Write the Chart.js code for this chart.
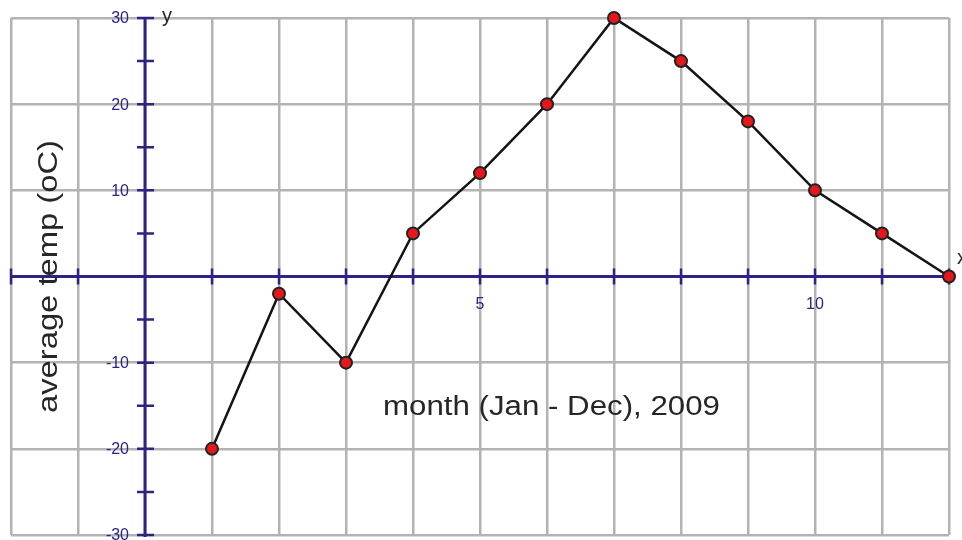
<!DOCTYPE html>
<html>
<head>
<meta charset="utf-8">
<title>Average temperature 2009</title>
<script src="https://cdn.jsdelivr.net/npm/chart.js@4"></script>
<style>
  html, body { margin: 0; padding: 0; background: #fff; }
  #wrap { width: 962px; height: 540px; position: relative; }
</style>
</head>
<body>
<div id="wrap"><canvas id="tempChart" width="962" height="540"></canvas></div>
<script>
// monthly average temperature, 2009
const months = [1, 2, 3, 4, 5, 6, 7, 8, 9, 10, 11, 12];
const temps = [-20, -2, -10, 5, 12, 20, 30, 25, 18, 10, 5, 0];

const xTickLabels = [5, 10];
const yTickLabels = [30, 20, 10, -10, -20, -30];
const yTickMarks = [30, 25, 20, 15, 10, 5, -5, -10, -15, -20, -25, -30];

const axisColor = "#2b2485";
const textColor = "#262626";

// draws the x/y axes through the origin, like graph paper
const originAxes = {
    id: "originAxes",
    beforeDatasetsDraw(chart) {
        const ctx = chart.ctx;
        const xs = chart.scales.x, ys = chart.scales.y;
        const ox = xs.getPixelForValue(0);
        const oy = ys.getPixelForValue(0);
        const a = chart.chartArea;

        ctx.save();
        ctx.strokeStyle = axisColor;
        ctx.lineWidth = 3;

        ctx.beginPath();
        ctx.moveTo(a.left - 1, oy);
        ctx.lineTo(a.right + 6, oy);
        ctx.moveTo(ox, ys.getPixelForValue(30));
        ctx.lineTo(ox, ys.getPixelForValue(-30) + 2);
        ctx.stroke();

        ctx.lineWidth = 2.5;
        ctx.beginPath();
        for (let v = -2; v <= 12; v++) {
            if (v === 0) continue;
            let px = xs.getPixelForValue(v);
            ctx.moveTo(px, oy - 8);
            ctx.lineTo(px, oy + 8);
        }
        yTickMarks.forEach(v => {
            let py = ys.getPixelForValue(v);
            ctx.moveTo(ox - 8, py);
            ctx.lineTo(ox + 9, py);
        });
        ctx.stroke();

        ctx.fillStyle = axisColor;
        ctx.font = "16px 'Liberation Sans', Arial, sans-serif";
        ctx.textAlign = "right";
        ctx.textBaseline = "middle";
        yTickLabels.forEach(v => {
            ctx.fillText(String(v), ox - 16, ys.getPixelForValue(v) + 1);
        });
        ctx.textAlign = "center";
        xTickLabels.forEach(v => {
            ctx.fillText(String(v), xs.getPixelForValue(v), oy + 28);
        });

        ctx.fillStyle = textColor;
        ctx.font = "20px 'Liberation Sans', Arial, sans-serif";
        ctx.textAlign = "left";
        ctx.textBaseline = "alphabetic";
        ctx.fillText("y", ox + 17, ys.getPixelForValue(30) + 4);
        ctx.fillText("x", a.right + 8, oy - 13);
        ctx.restore();
    },
    afterDraw(chart) {
        const ctx = chart.ctx;
        ctx.save();
        ctx.fillStyle = textColor;
        ctx.font = "27px 'Liberation Sans', Arial, sans-serif";
        ctx.textBaseline = "alphabetic";

        // x title, stretched a little to span its width
        let t = "month (Jan - Dec), 2009";
        let w = ctx.measureText(t).width;
        ctx.save();
        ctx.translate(383, 415);
        ctx.scale(337 / w, 1);
        ctx.textAlign = "left";
        ctx.fillText(t, 0, 0);
        ctx.restore();

        // y title, rotated
        t = "average temp (oC)";
        w = ctx.measureText(t).width;
        ctx.save();
        ctx.translate(57, 413);
        ctx.rotate(-Math.PI / 2);
        ctx.scale(273 / w, 1);
        ctx.textAlign = "left";
        ctx.fillText(t, 0, 0);
        ctx.restore();

        ctx.restore();
    }
};

new Chart(document.getElementById("tempChart"), {
    type: "scatter",
    data: {
        datasets: [{
            label: "avg temp",
            data: months.map((m, i) => ({ x: m, y: temps[i] })),
            showLine: true,
            borderColor: "#141414",
            borderWidth: 2.5,
            pointRadius: 6,
            pointBackgroundColor: "#e5171b",
            pointBorderColor: "#222",
            pointBorderWidth: 2,
            clip: false
        }]
    },
    options: {
        responsive: false,
        animation: false,
        devicePixelRatio: 1,
        layout: { autoPadding: false, padding: { left: 11, top: 18, right: 13, bottom: 5 } },
        plugins: { legend: { display: false }, tooltip: { enabled: false } },
        scales: {
            x: {
                type: "linear",
                min: -2, max: 12,
                ticks: { display: false, stepSize: 1, padding: 0 },
                grid: { color: "#b3b3b3", lineWidth: 2.5, drawTicks: false },
                border: { display: false }
            },
            y: {
                type: "linear",
                min: -30, max: 30,
                ticks: { display: false, stepSize: 10, padding: 0 },
                grid: { color: "#b3b3b3", lineWidth: 2.5, drawTicks: false },
                border: { display: false }
            }
        }
    },
    plugins: [originAxes]
});
</script>
</body>
</html>
